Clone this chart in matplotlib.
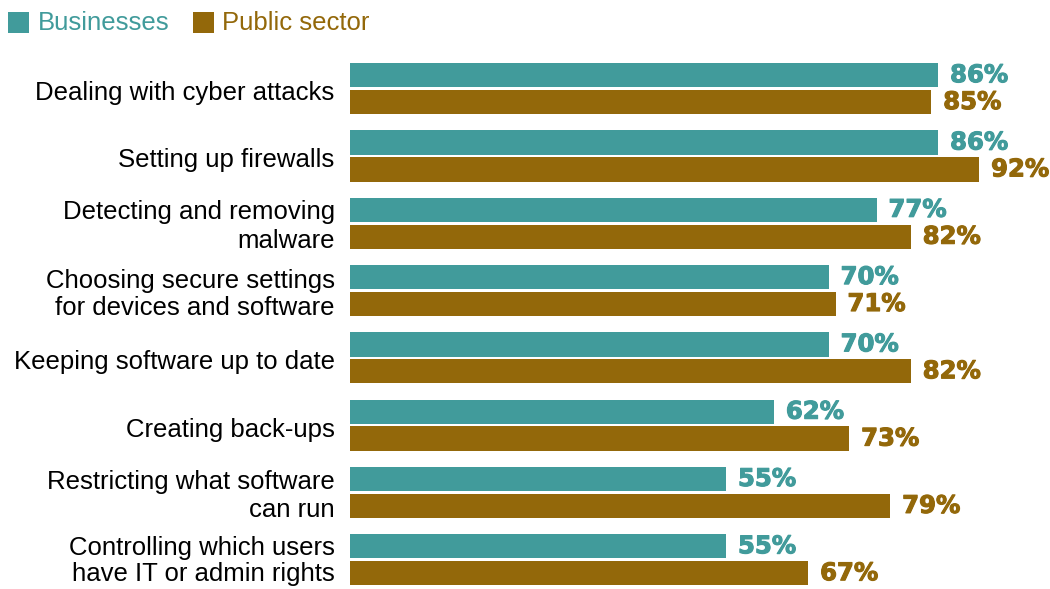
import matplotlib
matplotlib.use("Agg")
import matplotlib.pyplot as plt
from matplotlib.patches import Rectangle
import matplotlib.patheffects as pe
import matplotlib.transforms as mtransforms

categories = [
    "Dealing with cyber attacks",
    "Setting up firewalls",
    "Detecting and removing\nmalware",
    "Choosing secure settings\nfor devices and software",
    "Keeping software up to date",
    "Creating back-ups",
    "Restricting what software\ncan run",
    "Controlling which users\nhave IT or admin rights",
]
businesses = [86, 86, 77, 70, 70, 62, 55, 55]
public_sector = [85, 92, 82, 71, 82, 73, 79, 67]
series_names = ["Businesses", "Public sector"]

TEAL = "#419B9B"
BROWN = "#93680A"

W, H = 1050, 589
fig = plt.figure(figsize=(W / 100, H / 100), dpi=100)

# axes placed in pixel terms: x 0..100 spans 350..1034 px, rows spaced ~67 px
left_px, right_px, top_px, bot_px = 350, 1034, 55, 589
ax = fig.add_axes([left_px / W, 1 - bot_px / H, (right_px - left_px) / W, (bot_px - top_px) / H])
ax.set_xlim(0, 100)
ax.set_ylim(-0.5 + (bot_px - top_px) / 67.3, -0.5)

ypos = list(range(len(categories)))
off, h = 0.2, 0.36
b1 = ax.barh([y - off for y in ypos], businesses, height=h, color=TEAL)
b2 = ax.barh([y + off for y in ypos], public_sector, height=h, color=BROWN)

for bars, vals, col in ((b1, businesses, TEAL), (b2, public_sector, BROWN)):
    for bar, v in zip(bars, vals):
        ax.annotate(f"{v}%", (v, bar.get_y() + bar.get_height() / 2),
                    xytext=(8.5, 0), textcoords="offset points",
                    ha="left", va="center", fontsize=17.5, fontweight="heavy",
                    color=col, family="DejaVu Sans", annotation_clip=False,
                    path_effects=[pe.withStroke(linewidth=0.8, foreground=col)])

ax.set_yticks(ypos)
ax.set_yticklabels(categories, fontsize=18.5, family="Liberation Sans", color="black")
ax.tick_params(axis="y", length=0, pad=11)

# per-label line spacing and vertical nudge (pixels, positive = up)
line_spacing = [1.2, 1.2, 1.28, 1.15, 1.2, 1.2, 1.19, 1.1]
nudge_px = [-2, -2, 2, 0, -2, -2, 1, 2.2]
for lbl, ls, dy in zip(ax.get_yticklabels(), line_spacing, nudge_px):
    lbl.set_linespacing(ls)
    lbl.set_transform(lbl.get_transform() +
                      mtransforms.ScaledTranslation(0, dy / 100, fig.dpi_scale_trans))
ax.set_xticks([])
for s in ax.spines.values():
    s.set_visible(False)

# legend drawn in figure pixel coordinates
for x_sq, x_txt, name, col in ((8, 38, series_names[0], TEAL), (193, 222, series_names[1], BROWN)):
    fig.add_artist(Rectangle((x_sq / W, 1 - 33 / H), 21 / W, 21 / H,
                             transform=fig.transFigure, color=col, lw=0))
    fig.text(x_txt / W, 1 - 23 / H, name, color=col, fontsize=18.5,
             family="Liberation Sans", va="center", ha="left")

fig.savefig("out.png", dpi=100)
